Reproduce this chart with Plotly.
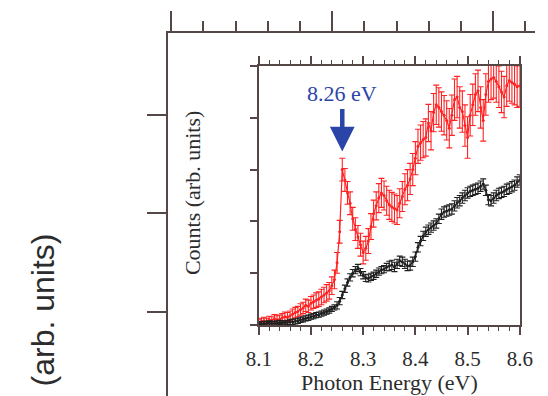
import plotly.graph_objects as go

# Photon energy grid (eV), 5 meV steps
energy = [8.100, 8.105, 8.110, 8.115, 8.120, 8.125, 8.130, 8.135, 8.140, 8.145,
          8.150, 8.155, 8.160, 8.165, 8.170, 8.175, 8.180, 8.185, 8.190, 8.195,
          8.200, 8.205, 8.210, 8.215, 8.220, 8.225, 8.230, 8.235, 8.240, 8.245,
          8.250, 8.255, 8.260, 8.265, 8.270, 8.275, 8.280, 8.285, 8.290, 8.295,
          8.300, 8.305, 8.310, 8.315, 8.320, 8.325, 8.330, 8.335, 8.340, 8.345,
          8.350, 8.355, 8.360, 8.365, 8.370, 8.375, 8.380, 8.385, 8.390, 8.395,
          8.400, 8.405, 8.410, 8.415, 8.420, 8.425, 8.430, 8.435, 8.440, 8.445,
          8.450, 8.455, 8.460, 8.465, 8.470, 8.475, 8.480, 8.485, 8.490, 8.495,
          8.500, 8.505, 8.510, 8.515, 8.520, 8.525, 8.530, 8.535, 8.540, 8.545,
          8.550, 8.555, 8.560, 8.565, 8.570, 8.575, 8.580, 8.585, 8.590, 8.595,
          8.600]

# Red spectrum (arb. units) and its uncertainties
red_counts = [0.05, 0.07, 0.08, 0.06, 0.10, 0.09, 0.12, 0.10, 0.11, 0.14,
              0.16, 0.15, 0.18, 0.21, 0.24, 0.26, 0.30, 0.33, 0.38, 0.36,
              0.42, 0.45, 0.48, 0.50, 0.54, 0.58, 0.62, 0.66, 0.76, 0.88,
              1.20, 1.80, 3.00, 2.80, 2.55, 2.35, 2.05, 1.85, 1.70, 1.55,
              1.40, 1.48, 1.62, 1.90, 2.15, 2.30, 2.45, 2.55, 2.50, 2.40,
              2.32, 2.28, 2.25, 2.22, 2.35, 2.48, 2.62, 2.70, 2.82, 3.00,
              3.22, 3.45, 3.52, 3.58, 3.62, 3.90, 3.75, 4.10, 4.25, 4.20,
              4.12, 4.05, 3.95, 3.80, 4.05, 4.35, 4.40, 4.20, 4.12, 3.85,
              3.62, 4.05, 4.25, 4.45, 4.52, 4.20, 3.95, 4.45, 4.70, 4.75,
              4.78, 4.70, 4.60, 4.50, 4.40, 4.62, 4.72, 4.68, 4.65, 4.60,
              4.62]
red_err = [0.06, 0.06, 0.07, 0.07, 0.07, 0.07, 0.08, 0.08, 0.08, 0.08,
           0.09, 0.09, 0.09, 0.10, 0.10, 0.10, 0.11, 0.11, 0.12, 0.12,
           0.13, 0.13, 0.14, 0.14, 0.15, 0.15, 0.16, 0.16, 0.17, 0.18,
           0.20, 0.22, 0.22, 0.22, 0.22, 0.22, 0.22, 0.22, 0.22, 0.22,
           0.22, 0.23, 0.24, 0.25, 0.26, 0.27, 0.28, 0.28, 0.28, 0.28,
           0.28, 0.28, 0.28, 0.28, 0.28, 0.29, 0.30, 0.30, 0.30, 0.31,
           0.32, 0.33, 0.34, 0.35, 0.36, 0.36, 0.37, 0.37, 0.38, 0.38,
           0.38, 0.38, 0.38, 0.38, 0.39, 0.40, 0.40, 0.40, 0.40, 0.40,
           0.40, 0.40, 0.40, 0.40, 0.40, 0.40, 0.40, 0.40, 0.40, 0.40,
           0.40, 0.40, 0.40, 0.40, 0.40, 0.40, 0.40, 0.40, 0.40, 0.40,
           0.40]

# Black spectrum (arb. units) and its uncertainties
black_counts = [0.02, 0.02, 0.03, 0.03, 0.04, 0.03, 0.03, 0.04, 0.05, 0.04,
                0.04, 0.05, 0.06, 0.06, 0.07, 0.08, 0.10, 0.11, 0.13, 0.14,
                0.16, 0.17, 0.19, 0.20, 0.22, 0.24, 0.26, 0.28, 0.31, 0.34,
                0.38, 0.46, 0.58, 0.70, 0.82, 0.92, 1.00, 1.06, 1.10, 1.02,
                0.96, 0.91, 0.90, 0.93, 0.95, 0.99, 1.03, 1.06, 1.08, 1.12,
                1.14, 1.16, 1.12, 1.18, 1.24, 1.22, 1.18, 1.14, 1.15, 1.22,
                1.32, 1.50, 1.62, 1.72, 1.80, 1.84, 1.88, 1.92, 1.96, 2.05,
                2.14, 2.18, 2.20, 2.22, 2.24, 2.30, 2.36, 2.40, 2.45, 2.50,
                2.55, 2.58, 2.60, 2.62, 2.64, 2.68, 2.72, 2.60, 2.42, 2.40,
                2.45, 2.50, 2.54, 2.56, 2.58, 2.62, 2.64, 2.67, 2.70, 2.76,
                2.80]
black_err = [0.04, 0.04, 0.04, 0.04, 0.04, 0.04, 0.04, 0.04, 0.04, 0.04,
             0.04, 0.04, 0.05, 0.05, 0.05, 0.05, 0.05, 0.05, 0.05, 0.05,
             0.05, 0.05, 0.05, 0.05, 0.05, 0.05, 0.05, 0.05, 0.05, 0.05,
             0.07, 0.07, 0.07, 0.07, 0.07, 0.07, 0.07, 0.07, 0.07, 0.07,
             0.07, 0.07, 0.07, 0.07, 0.07, 0.07, 0.07, 0.07, 0.07, 0.07,
             0.09, 0.09, 0.09, 0.09, 0.09, 0.09, 0.09, 0.09, 0.09, 0.09,
             0.09, 0.09, 0.09, 0.09, 0.09, 0.09, 0.09, 0.09, 0.09, 0.09,
             0.10, 0.10, 0.10, 0.10, 0.10, 0.10, 0.10, 0.10, 0.10, 0.10,
             0.10, 0.10, 0.10, 0.10, 0.10, 0.10, 0.10, 0.10, 0.10, 0.10,
             0.10, 0.10, 0.10, 0.10, 0.10, 0.10, 0.10, 0.10, 0.10, 0.10,
             0.10]

energy_ticks = [8.1, 8.2, 8.3, 8.4, 8.5, 8.6]
energy_tick_text = ["8.1", "8.2", "8.3", "8.4", "8.5", "8.6"]
peak_energy = 8.26
peak_label = "8.26 eV"

FRAME = "#554745"
SERIF = "Liberation Serif"
TEXT = "#2c2c2c"
RED = "#ff2222"
BLACK = "#202020"
BLUE = "#2b44a8"

fig = go.Figure()

# empty trace so the outer frame axes get a subplot
fig.add_trace(go.Scatter(x=[None], y=[None], xaxis="x2", yaxis="y2",
                         showlegend=False, hoverinfo="skip"))

fig.add_trace(go.Scatter(
    x=energy, y=red_counts, mode="lines+markers",
    line=dict(color=RED, width=1.2), marker=dict(color=RED, size=3),
    error_y=dict(type="data", array=red_err, color=RED, thickness=1.1, width=3),
    showlegend=False))

fig.add_trace(go.Scatter(
    x=energy, y=black_counts, mode="lines+markers",
    line=dict(color=BLACK, width=1.3), marker=dict(color=BLACK, size=3),
    error_y=dict(type="data", array=black_err, color=BLACK, thickness=1.1, width=3),
    showlegend=False))

W, H = 548, 396

fig.update_layout(
    width=W, height=H,
    margin=dict(l=0, r=0, t=0, b=0),
    paper_bgcolor="white", plot_bgcolor="rgba(0,0,0,0)",
    showlegend=False,
    # outer frame axes
    xaxis2=dict(domain=[163 / W, 1], anchor="y2", side="top",
                range=[-0.0178, 2.26], showgrid=False, zeroline=False,
                showticklabels=False, showline=True, linecolor=FRAME, linewidth=2,
                ticks="outside", ticklen=20, tickwidth=2, tickcolor=FRAME,
                tick0=0, dtick=1,
                minor=dict(ticks="outside", ticklen=10, tickwidth=2,
                           tickcolor=FRAME, dtick=0.2, tick0=0, showgrid=False)),
    yaxis2=dict(domain=[0, (H - 33) / H], anchor="x2",
                range=[-0.853, 2.832], showgrid=False, zeroline=False,
                showticklabels=False, showline=True, linecolor=FRAME, linewidth=2,
                ticks="outside", ticklen=19, tickwidth=2, tickcolor=FRAME,
                tick0=0, dtick=1),
    # inset axes
    xaxis=dict(domain=[258 / W, 532 / W], anchor="y",
               range=[8.1, 8.6], showgrid=False, zeroline=False,
               tickvals=energy_ticks, ticktext=energy_tick_text,
               tickfont=dict(family=SERIF, size=21, color=TEXT),
               ticklabelstandoff=6,
               showline=True, linecolor=FRAME, linewidth=1.5, mirror="ticks",
               ticks="outside", ticklen=8, tickwidth=1.5, tickcolor=FRAME,
               minor=dict(ticks="outside", ticklen=4, tickwidth=1,
                          tickcolor=FRAME, dtick=0.02, tick0=8.1, showgrid=False)),
    yaxis=dict(domain=[(H - 325) / H, (H - 66) / H], anchor="x",
               range=[0, 5], showgrid=False, zeroline=False,
               showticklabels=False, tick0=0, dtick=1,
               showline=True, linecolor=FRAME, linewidth=1.5, mirror=True,
               ticks="outside", ticklen=7, tickwidth=1.5, tickcolor=FRAME),
)

fig.add_annotation(x=peak_energy, y=3.35, ax=peak_energy, ay=4.2,
                   xref="x", yref="y", axref="x", ayref="y",
                   text="", showarrow=True, arrowhead=2, arrowsize=1.1,
                   arrowwidth=4.5, arrowcolor=BLUE)
fig.add_annotation(x=peak_energy, y=4.46, xref="x", yref="y",
                   text=peak_label, showarrow=False,
                   font=dict(family=SERIF, size=22, color=BLUE))

fig.add_annotation(x=(258 + 532) / 2 / W, y=(H - 382) / H, xref="paper", yref="paper",
                   text="Photon Energy (eV)", showarrow=False,
                   xanchor="center", yanchor="middle",
                   font=dict(family=SERIF, size=22, color=TEXT))
fig.add_annotation(x=188 / W, y=(H - 193) / H, xref="paper", yref="paper",
                   text="Counts (arb. units)", showarrow=False, textangle=-90,
                   xanchor="center", yanchor="middle",
                   font=dict(family=SERIF, size=22, color=TEXT))
fig.add_annotation(x=32 / W, y=(H - 310) / H, xref="paper", yref="paper",
                   text="(arb. units)", showarrow=False, textangle=-90,
                   xanchor="center", yanchor="middle",
                   font=dict(family="Liberation Sans", size=32, color=TEXT))

fig.write_html("out.html")
